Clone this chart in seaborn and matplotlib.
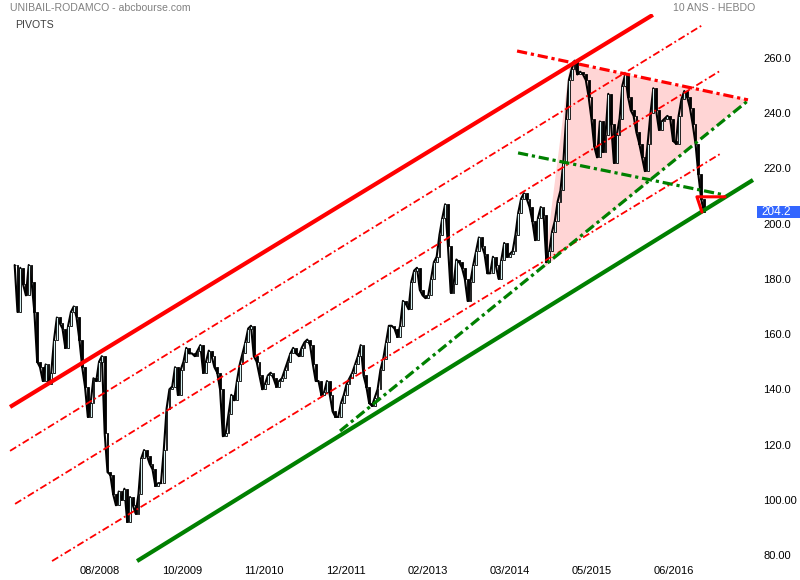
"""
plot.py  --  UNIBAIL-RODAMCO weekly chart (10 ans, hebdo) with pivot lines
"""
import matplotlib
matplotlib.use("Agg")
import numpy as np
import pandas as pd
import matplotlib.pyplot as plt
from matplotlib.patches import Polygon, Rectangle
import seaborn as sns

# ────────────────────────────────────────────────────────────────────────────
# 1. Data – closes, one every two weeks
# ────────────────────────────────────────────────────────────────────────────
START = "2007-06-22"
close = [
    185, 168, 184, 178, 174, 185, 179, 168, 150, 148,
    143, 149, 142, 146, 158, 166, 164, 162, 155, 163,
    168, 170, 166, 158, 148, 141, 130, 135, 144, 143,
    150, 152, 124, 110, 109, 102, 98, 103, 100, 104,
    92, 101, 98, 95, 102, 115, 118, 116, 113, 111,
    105, 106, 106, 118, 133, 140, 141, 148, 138, 147,
    150, 155, 153, 153, 152, 154, 156, 146, 150, 154,
    152, 148, 146, 140, 123, 124, 131, 138, 136, 143,
    149, 153, 157, 162, 163, 152, 150, 145, 140, 142,
    145, 146, 144, 141, 143, 144, 147, 150, 153, 155,
    153, 152, 155, 157, 158, 156, 149, 143, 143, 138,
    139, 143, 138, 132, 130, 130, 135, 138, 142, 144,
    146, 149, 152, 156, 145, 141, 135, 134, 137, 140,
    147, 151, 157, 163, 163, 162, 159, 163, 172, 171,
    169, 179, 183, 184, 176, 174, 173, 174, 180, 186,
    188, 196, 202, 207, 192, 175, 178, 187, 186, 184,
    180, 172, 179, 185, 190, 195, 192, 189, 182, 182,
    188, 185, 180, 187, 193, 188, 189, 190, 196, 204,
    209, 211, 209, 206, 201, 194, 202, 206, 203, 186,
    190, 197, 201, 208, 212, 222, 238, 252, 256, 259,
    254, 255, 254, 252, 246, 238, 228, 224, 237, 226,
    232, 247, 236, 222, 232, 238, 250, 254, 246, 241,
    239, 233, 229, 224, 219, 229, 240, 249, 241, 234,
    237, 238, 239, 238, 230, 229, 239, 245, 248, 246,
    242, 236, 229, 218, 209, 204.2,
]
dates = pd.date_range(START, periods=len(close), freq="14D")
last_close = close[-1]

# trend lines: (dates, prices)
red_top_dates, red_top = ["2007-05-30", "2016-03-02"], [133.6, 275.6]
red_mid1_dates, red_mid1 = ["2007-05-30", "2016-11-06"], [117.7, 272.0]
red_mid2_dates, red_mid2 = ["2007-06-24", "2017-01-30"], [98.5, 255.3]
red_mid3_dates, red_mid3 = ["2007-12-25", "2017-01-30"], [77.8, 225.2]
green_sup_dates, green_sup = ["2009-02-20", "2017-07-13"], [77.8, 215.8]
green_rise_dates, green_rise = ["2011-11-27", "2017-06-23"], [124.9, 244.8]
green_neck_dates, green_neck = ["2014-05-01", "2017-02-19"], [225.6, 210.4]
red_fall_dates, red_fall = ["2014-04-26", "2017-06-18"], [262.5, 244.8]
tri_dates, tri_prices = ["2014-09-07", "2015-01-14", "2017-06-18"], [184.0, 258.2, 244.8]
mark_dates, mark_prices = ["2016-11-01", "2016-10-07", "2017-02-24"], [204.2, 209.7, 209.7]

y_ticks = [80, 100, 120, 140, 160, 180, 200, 220, 240, 260]
y_labels = ["80.00", "100.00", "120.0", "140.0", "160.0",
            "180.0", "200.0", "220.0", "240.0", "260.0"]
x_ticks = pd.date_range("2008-08-20", periods=8, freq="408D")
x_labels = ["08/2008", "10/2009", "11/2010", "12/2011",
            "02/2013", "03/2014", "05/2015", "06/2016"]

# ────────────────────────────────────────────────────────────────────────────
# 2. Plot
# ────────────────────────────────────────────────────────────────────────────
sns.set_theme(style="white")
plt.rcParams["font.family"] = ["Liberation Sans", "DejaVu Sans"]

fig = plt.figure(figsize=(8, 5.8), dpi=100)
ax = fig.add_axes([0, 17 / 580, 757 / 800, 549 / 580])
ax.set_xlim(pd.Timestamp("2007-04-10"), pd.Timestamp("2017-08-02"))
ax.set_ylim(77.1, 275.9)

td = lambda d: pd.to_datetime(d)

# pink triangle
tri = Polygon(np.column_stack([matplotlib.dates.date2num(td(tri_dates)), tri_prices]),
              closed=True, facecolor="#ffd5d5", edgecolor="none", zorder=1)
ax.add_patch(tri)

# price: candle-like bodies between consecutive closes + close line
df = pd.DataFrame({"date": dates, "close": close})
df["prev"] = df["close"].shift(1).fillna(df["close"])
up = df["close"] >= df["prev"]
sns.lineplot(data=df, x="date", y="close", color="black", lw=1.5, ax=ax, zorder=3)
ax.bar(df["date"][up], (df["close"] - df["prev"])[up], bottom=df["prev"][up],
       width=9, color="#d6f2f2", edgecolor="black", linewidth=0.6, zorder=4)
ax.bar(df["date"][~up], (df["close"] - df["prev"])[~up], bottom=df["prev"][~up],
       width=9, color="black", edgecolor="black", linewidth=0.6, zorder=4)

thin_dd = (0, (4, 1.6, 1, 1.6))
thick_dd = (0, (3.2, 1.2, 1, 1.2))

ax.plot(td(red_top_dates), red_top, color="red", lw=3, solid_capstyle="butt", zorder=5)
for dd, pp in [(red_mid1_dates, red_mid1), (red_mid2_dates, red_mid2),
               (red_mid3_dates, red_mid3)]:
    ax.plot(td(dd), pp, color="red", lw=1.3, ls=thin_dd, zorder=5)
ax.plot(td(green_sup_dates), green_sup, color="#008000", lw=3, solid_capstyle="butt", zorder=5)
ax.plot(td(green_rise_dates), green_rise, color="#008000", lw=2.3, ls=thick_dd, zorder=5)
ax.plot(td(green_neck_dates), green_neck, color="#008000", lw=2.3, ls=thick_dd, zorder=5)
ax.plot(td(red_fall_dates), red_fall, color="red", lw=2.3, ls=thick_dd, zorder=5)
ax.plot(td(mark_dates), mark_prices, color="red", lw=2.2, zorder=6)

# axes cosmetics
for s in ax.spines.values():
    s.set_visible(False)
ax.grid(False)
ax.set_xlabel("")
ax.set_ylabel("")
ax.yaxis.tick_right()
ax.set_yticks(y_ticks)
ax.set_yticklabels(y_labels)
ax.set_xticks(x_ticks)
ax.set_xticklabels(x_labels)
ax.tick_params(axis="y", length=0, pad=4.5, labelsize=8, labelcolor="black")
ax.tick_params(axis="x", length=0, pad=2, labelsize=8, labelcolor="black")

# last price box
ax.add_patch(Rectangle((1.0, last_close - 2.2), 0.06, 4.4, transform=ax.get_yaxis_transform(),
                       facecolor="#3366ff", edgecolor="none", clip_on=False, zorder=10))
ax.annotate(f"{last_close:.1f}", xy=(1.0, last_close), xycoords=ax.get_yaxis_transform(),
            xytext=(3.5, 0), textcoords="offset points", ha="left", va="center",
            color="white", fontsize=8.5, annotation_clip=False, zorder=11)

fig.text(10 / 800, 1 - 8 / 580, "UNIBAIL-RODAMCO - abcbourse.com", color="#808080",
         fontsize=7.6, va="center", ha="left")
fig.text(15 / 800, 1 - 25 / 580, "PIVOTS", color="#404040", fontsize=7.6, va="center", ha="left")
fig.text(755 / 800, 1 - 8 / 580, "10 ANS - HEBDO", color="#808080", fontsize=7.6,
         va="center", ha="right")

fig.savefig("out.png", dpi=100)
